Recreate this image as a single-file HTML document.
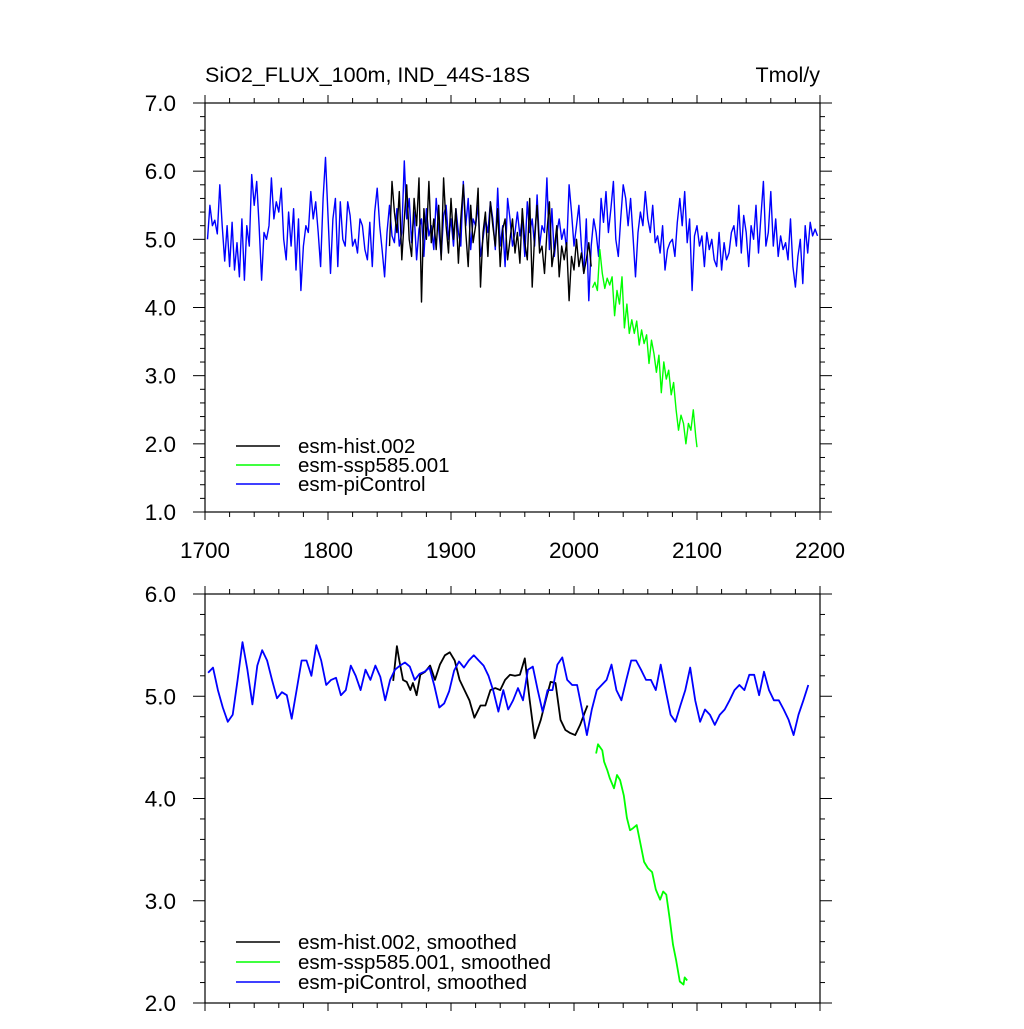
<!DOCTYPE html>
<html><head><meta charset="utf-8"><style>
body{margin:0;background:#fff;}
svg text{font-family:"Liberation Sans",Arial,sans-serif;fill:#000;}
</style></head><body>
<svg id="chart" width="1024" height="1024" viewBox="0 0 1024 1024" xmlns="http://www.w3.org/2000/svg">
<rect width="1024" height="1024" fill="#fff"/>
<text x="205" y="82" font-size="21.5">SiO2_FLUX_100m, IND_44S-18S</text>
<text x="820" y="82" font-size="21.5" text-anchor="end">Tmol/y</text>
<g id="top"></g>
<g id="bot"></g>
</svg>
<script>
const xTickYears=[1700,1800,1900,2000,2100,2200];
const topYTicks=[1,2,3,4,5,6,7];
const botYTicks=[2,3,4,5,6];
const histYears=[];for(let y=1850;y<=2014;y+=2)histYears.push(y);
const histAnnual=[4.9,5.85,5.4,5.1,5.7,4.7,5.3,5.8,5.0,4.75,
5.6,5.2,5.9,4.08,5.45,5.0,5.85,4.95,5.3,4.85,
5.5,4.7,5.9,5.2,4.8,5.6,5.0,5.45,4.65,5.3,
5.8,5.1,4.6,5.5,4.95,5.2,5.75,4.3,5.1,5.4,
4.75,5.55,5.2,4.9,5.45,4.6,5.15,5.3,4.7,5.0,
5.3,4.8,5.1,4.65,5.45,4.95,4.7,5.6,4.3,5.05,
5.5,4.8,4.9,4.5,5.1,5.55,4.6,4.85,5.2,4.45,
4.9,4.7,4.95,4.1,4.75,4.55,5.0,4.6,4.8,4.5,
4.7,4.95,4.6];
const sspYears=[2015,2017,2019,2021,2023,2025,2027,2029,2031,2033,2035,2037,2039,2041,2043,2045,2047,2049,2051,2053,2055,2057,2059,2061,2063,2065,2067,2069,2071,2073,2075,2077,2079,2081,2083,2085,2087,2089,2091,2093,2095,2097,2099,2100];
const sspAnnual=[4.29,4.37,4.25,4.85,4.5,4.28,4.43,4.33,4.45,3.88,4.25,4.05,4.45,3.7,4.05,3.62,3.82,3.62,3.8,3.45,3.67,3.47,3.6,3.18,3.52,3.32,3.05,3.3,2.75,3.2,2.95,3.08,2.72,2.9,2.5,2.2,2.42,2.3,2.0,2.3,2.2,2.5,2.1,1.95];
const piYears=[];for(let y=1702;y<=2198;y+=2)piYears.push(y);
const piAnnual=[5.0,5.5,5.2,5.28,5.08,5.8,5.2,4.68,5.2,4.6,
5.25,4.55,4.95,4.45,5.3,4.4,5.2,4.9,5.95,5.5,
5.85,5.2,4.4,5.1,5.0,5.2,5.9,5.3,5.55,5.4,
5.75,5.0,4.7,5.4,4.9,5.45,4.55,5.3,4.25,4.9,
5.2,5.1,5.7,5.3,5.55,5.1,4.6,5.6,6.2,5.35,
4.5,5.3,5.6,4.6,5.55,5.0,4.9,5.55,5.35,4.9,
5.0,4.8,5.3,5.2,4.85,4.7,5.25,4.6,5.4,5.75,
5.2,4.85,4.45,5.1,5.5,5.05,4.95,5.45,4.9,5.1,
6.15,5.3,5.6,4.95,5.4,4.7,5.15,5.3,4.75,5.45,
5.05,5.2,4.85,5.6,5.15,4.75,5.35,5.5,5.0,5.3,
4.9,5.45,5.1,4.9,5.85,5.2,5.6,4.85,5.3,5.2,
5.5,4.75,5.0,5.3,5.1,5.55,5.3,4.85,5.75,4.9,
5.2,4.6,5.6,5.3,4.9,5.1,5.4,5.05,5.3,4.75,
5.55,5.1,5.3,4.9,5.65,4.9,5.2,5.1,5.9,4.85,
5.45,4.75,5.1,5.3,5.0,5.15,4.85,5.8,5.4,4.9,
5.2,5.5,4.9,4.5,5.3,4.1,4.9,5.3,5.1,4.75,
5.6,5.25,5.7,5.1,5.45,5.85,5.0,4.75,5.3,5.8,
5.6,5.2,5.6,5.05,4.45,5.1,5.4,5.2,5.7,5.3,
5.1,5.5,4.95,5.05,4.8,5.2,4.55,4.85,4.95,5.0,
4.75,5.25,5.6,5.2,5.7,4.95,5.3,4.25,5.05,5.2,
4.9,5.05,4.6,5.1,4.85,5.0,4.7,4.6,5.1,4.55,
4.95,4.7,4.8,5.1,5.2,4.9,5.5,4.8,5.35,5.1,
4.6,5.2,5.0,5.5,4.8,5.35,5.85,4.9,5.1,5.7,
4.9,5.3,4.75,5.05,4.85,4.95,4.7,5.3,4.6,4.3,
4.75,5.0,4.35,5.2,4.8,5.25,5.05,5.15,5.05];
const histSmoothYears=[1853,1856,1858,1861,1864,1867,1869,1872,1875,1879,1883,1887,1891,1895,1899,1903,1907,1911,1915,1919,1924,1928,1932,1936,1940,1944,1948,1952,1956,1960,1964,1968,1973,1977,1981,1985,1989,1993,1997,2001,2005,2009,2011];
const histSmooth=[5.15,5.49,5.35,5.16,5.14,5.06,5.13,5.01,5.21,5.24,5.30,5.16,5.31,5.40,5.43,5.35,5.16,5.06,4.96,4.79,4.91,4.91,5.06,5.08,5.06,5.16,5.21,5.20,5.21,5.37,4.96,4.59,4.77,4.96,5.14,5.13,4.77,4.67,4.64,4.62,4.72,4.85,4.91];
const sspSmoothYears=[2018,2019.5,2023,2024.5,2027,2029,2032.5,2035,2037.5,2040.5,2043,2045.5,2048,2051,2053.5,2057,2060,2063.5,2066.5,2070,2072.5,2075,2078,2080.5,2083,2086,2089,2090,2092];
const sspSmooth=[4.44,4.53,4.47,4.36,4.28,4.20,4.10,4.23,4.18,4.03,3.81,3.69,3.71,3.74,3.59,3.38,3.32,3.28,3.11,3.01,3.09,3.06,2.81,2.57,2.42,2.21,2.18,2.25,2.22];
const piSmooth=[5.23,5.28,5.06,4.89,4.75,4.82,5.16,5.53,5.26,4.92,5.30,5.45,5.35,5.16,4.98,5.04,5.01,4.78,5.06,5.35,5.35,5.20,5.50,5.35,5.11,5.16,5.18,5.01,5.06,5.30,5.20,5.06,5.26,5.16,5.30,5.19,4.96,5.16,5.26,5.30,
5.33,5.29,5.16,5.22,5.24,5.28,5.1,4.89,4.93,5.05,5.25,5.34,5.28,5.35,5.4,5.35,5.3,5.2,5.05,4.85,
5.06,4.87,4.96,5.08,4.96,5.26,5.29,5.06,4.85,5.06,5.06,5.31,5.38,5.16,5.11,5.11,4.87,4.62,4.87,5.06,5.11,5.16,5.31,5.06,4.96,5.16,5.35,5.35,5.26,5.16,5.16,5.06,5.31,5.06,4.82,4.75,4.91,5.06,5.28,4.96,4.75,4.87,4.82,4.72,4.82,4.87,4.96,5.06,5.11,5.06,5.21,5.21,5.01,5.24,5.06,4.96,4.96,4.87,4.77,4.62,4.82,4.96,5.11];
const piSmoothYears=[];for(let k=0;k<piSmooth.length;k++)piSmoothYears.push(1702.5+k*4.0);

const NS="http://www.w3.org/2000/svg";
const X0=205,X1=820;
function xs(y){return X0+(y-1700)/(2200-1700)*(X1-X0);}
function mk(tag,parent,attrs){const e=document.createElementNS(NS,tag);for(const k in attrs)e.setAttribute(k,attrs[k]);parent.appendChild(e);return e;}

function panel(g,top,bot,ymin,ymax,yTicks,labelX){
  const ys=v=>bot-(v-ymin)/(ymax-ymin)*(bot-top);
  const frame=mk('rect',g,{x:X0,y:top,width:X1-X0,height:bot-top,fill:'none',stroke:'#000','stroke-width':1.2});
  
  
  for(let yr=1700;yr<=2200;yr+=20){
    const maj=(yr%100===0);const L=maj?8:5;const x=xs(yr);
    const t1=mk('line',g,{x1:x,x2:x,y1:bot,y2:bot+L,stroke:'#000','stroke-width':1});
    
    
    const t2=mk('line',g,{x1:x,x2:x,y1:top,y2:top-L,stroke:'#000','stroke-width':1});
    
    
  }
  if(labelX){xTickYears.forEach(yr=>{const t=mk('text',g,{x:xs(yr),y:bot+46,'font-size':22.5,'text-anchor':'middle'});t.textContent=yr;
    
    });}
  for(let v=ymin;v<=ymax+1e-6;v+=0.2){
    const r=Math.round(v*10)/10;const maj=Math.abs(r-Math.round(r))<1e-6;const L=maj?12:5;const y=ys(r);
    const a=mk('line',g,{x1:X0,x2:X0-L,y1:y,y2:y,stroke:'#000','stroke-width':1});
    
    
    const b=mk('line',g,{x1:X1,x2:X1+L,y1:y,y2:y,stroke:'#000','stroke-width':1});
    
    
  }
  yTicks.forEach(v=>{const t=mk('text',g,{x:176,y:ys(v)+8,'font-size':22.5,'text-anchor':'end'});t.textContent=v.toFixed(1);
    
    });
  return ys;
}
function series(g,ys,years,vals,color,w,name){
  const d=years.map((y,i)=>(i?'L':'M')+xs(y).toFixed(1)+' '+ys(vals[i]).toFixed(1)).join(' ');
  const p=mk('path',g,{d:d,fill:'none',stroke:color,'stroke-width':w,'stroke-linejoin':'round'});
  
  
}
function legend(g,y0,dy,labels,colors){
  labels.forEach((lab,i)=>{const y=y0+i*dy;
    const l=mk('line',g,{x1:236,x2:280,y1:y,y2:y,stroke:colors[i],'stroke-width':1.5});
    
    
    const t=mk('text',g,{x:298,y:y+7,'font-size':20.5});t.textContent=lab;
    
    });
}
const gt=document.getElementById('top'),gb=document.getElementById('bot');
const yt=panel(gt,103,512,1,7,topYTicks,true);
series(gt,yt,piYears,piAnnual,'#0000ff',1.4,'picontrol-annual-line');
series(gt,yt,histYears,histAnnual,'#000000',1.4,'hist-annual-line');
series(gt,yt,sspYears,sspAnnual,'#00ff00',1.4,'ssp585-annual-line');
legend(gt,446,19,['esm-hist.002','esm-ssp585.001','esm-piControl'],['#000','#00ff00','#0000ff']);
const yb=panel(gb,594,1003,2,6,botYTicks,false);
series(gb,yb,histSmoothYears,histSmooth,'#000000',1.8,'hist-smoothed-line');
series(gb,yb,piSmoothYears,piSmooth,'#0000ff',1.8,'picontrol-smoothed-line');
series(gb,yb,sspSmoothYears,sspSmooth,'#00ff00',1.8,'ssp585-smoothed-line');
legend(gb,942,20,['esm-hist.002, smoothed','esm-ssp585.001, smoothed','esm-piControl, smoothed'],['#000','#00ff00','#0000ff']);
</script>
</body></html>
